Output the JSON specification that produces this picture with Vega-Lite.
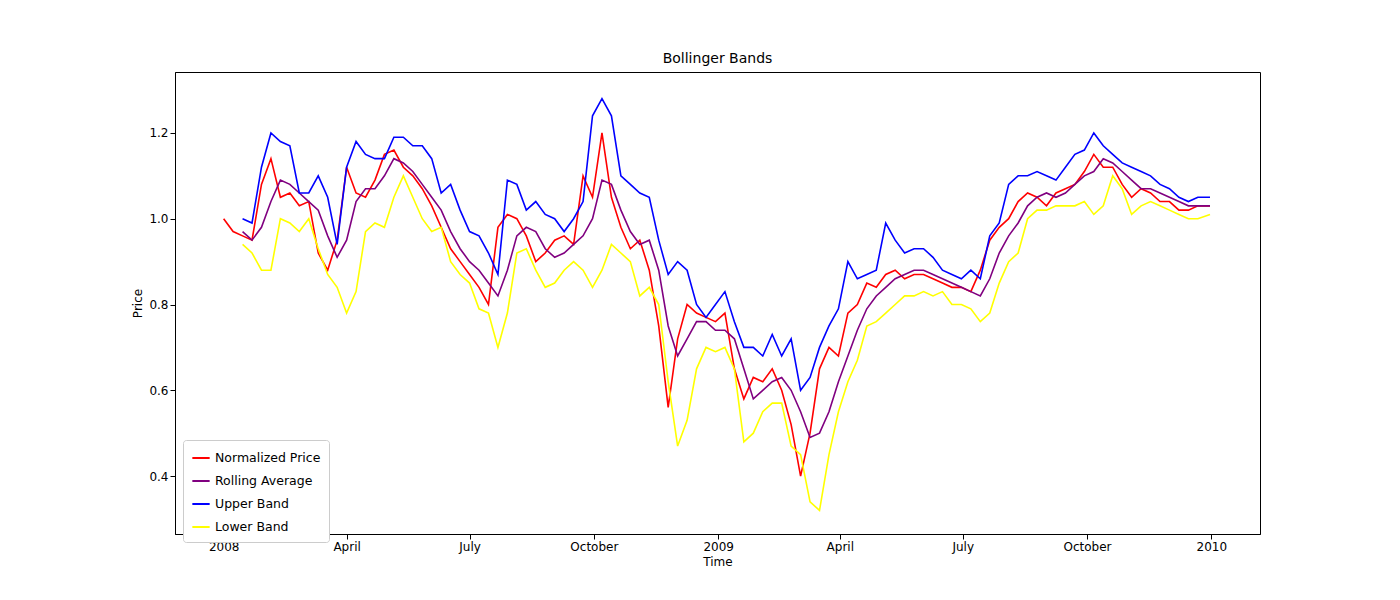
{
  "$schema": "https://vega.github.io/schema/vega-lite/v6.json",
  "width": 1085,
  "height": 462,
  "autosize": {"type": "none"},
  "padding": {"left": 175, "top": 72, "right": 140, "bottom": 66},
  "title": {"text": "Bollinger Bands", "fontSize": 14, "fontWeight": "normal", "font": "DejaVu Sans", "offset": 6},
  "config": {
    "font": "DejaVu Sans",
    "view": {"stroke": "black", "strokeWidth": 1},
    "axis": {"grid": false, "domainColor": "black", "tickColor": "black", "labelFontSize": 12, "titleFontSize": 12, "titleFontWeight": "normal", "labelColor": "black", "titleColor": "black"}
  },
  "data": {"values": [
    {"d":"2008-01-01","p":1.00},
    {"d":"2008-01-08","p":0.97},
    {"d":"2008-01-15","p":0.96,"m":0.97,"u":1.00,"l":0.94},
    {"d":"2008-01-22","p":0.95,"m":0.95,"u":0.99,"l":0.92},
    {"d":"2008-01-29","p":1.08,"m":0.98,"u":1.12,"l":0.88},
    {"d":"2008-02-05","p":1.14,"m":1.04,"u":1.20,"l":0.88},
    {"d":"2008-02-12","p":1.05,"m":1.09,"u":1.18,"l":1.00},
    {"d":"2008-02-19","p":1.06,"m":1.08,"u":1.17,"l":0.99},
    {"d":"2008-02-26","p":1.03,"m":1.06,"u":1.06,"l":0.97},
    {"d":"2008-03-04","p":1.04,"m":1.04,"u":1.06,"l":1.00},
    {"d":"2008-03-11","p":0.92,"m":1.02,"u":1.10,"l":0.93},
    {"d":"2008-03-18","p":0.88,"m":0.96,"u":1.05,"l":0.87},
    {"d":"2008-03-25","p":0.95,"m":0.91,"u":0.94,"l":0.84},
    {"d":"2008-04-01","p":1.12,"m":0.95,"u":1.12,"l":0.78},
    {"d":"2008-04-08","p":1.06,"m":1.04,"u":1.18,"l":0.83},
    {"d":"2008-04-15","p":1.05,"m":1.07,"u":1.15,"l":0.97},
    {"d":"2008-04-22","p":1.09,"m":1.07,"u":1.14,"l":0.99},
    {"d":"2008-04-29","p":1.15,"m":1.10,"u":1.14,"l":0.98},
    {"d":"2008-05-06","p":1.16,"m":1.14,"u":1.19,"l":1.05},
    {"d":"2008-05-13","p":1.12,"m":1.13,"u":1.19,"l":1.10},
    {"d":"2008-05-20","p":1.10,"m":1.11,"u":1.17,"l":1.05},
    {"d":"2008-05-27","p":1.07,"m":1.08,"u":1.17,"l":1.00},
    {"d":"2008-06-03","p":1.03,"m":1.05,"u":1.14,"l":0.97},
    {"d":"2008-06-10","p":0.98,"m":1.02,"u":1.06,"l":0.98},
    {"d":"2008-06-17","p":0.93,"m":0.97,"u":1.08,"l":0.90},
    {"d":"2008-06-24","p":0.90,"m":0.93,"u":1.02,"l":0.87},
    {"d":"2008-07-01","p":0.87,"m":0.90,"u":0.97,"l":0.85},
    {"d":"2008-07-08","p":0.84,"m":0.88,"u":0.96,"l":0.79},
    {"d":"2008-07-15","p":0.80,"m":0.85,"u":0.92,"l":0.78},
    {"d":"2008-07-22","p":0.98,"m":0.82,"u":0.87,"l":0.70},
    {"d":"2008-07-29","p":1.01,"m":0.88,"u":1.09,"l":0.78},
    {"d":"2008-08-05","p":1.00,"m":0.96,"u":1.08,"l":0.92},
    {"d":"2008-08-12","p":0.96,"m":0.98,"u":1.02,"l":0.93},
    {"d":"2008-08-19","p":0.90,"m":0.97,"u":1.04,"l":0.88},
    {"d":"2008-08-26","p":0.92,"m":0.93,"u":1.01,"l":0.84},
    {"d":"2008-09-02","p":0.95,"m":0.91,"u":1.00,"l":0.85},
    {"d":"2008-09-09","p":0.96,"m":0.92,"u":0.97,"l":0.88},
    {"d":"2008-09-16","p":0.94,"m":0.94,"u":1.00,"l":0.90},
    {"d":"2008-09-23","p":1.10,"m":0.96,"u":1.04,"l":0.88},
    {"d":"2008-09-30","p":1.05,"m":1.00,"u":1.24,"l":0.84},
    {"d":"2008-10-07","p":1.20,"m":1.09,"u":1.28,"l":0.88},
    {"d":"2008-10-14","p":1.05,"m":1.08,"u":1.24,"l":0.94},
    {"d":"2008-10-21","p":0.98,"m":1.02,"u":1.10,"l":0.92},
    {"d":"2008-10-28","p":0.93,"m":0.97,"u":1.08,"l":0.90},
    {"d":"2008-11-04","p":0.95,"m":0.94,"u":1.06,"l":0.82},
    {"d":"2008-11-11","p":0.88,"m":0.95,"u":1.05,"l":0.84},
    {"d":"2008-11-18","p":0.75,"m":0.88,"u":0.95,"l":0.80},
    {"d":"2008-11-25","p":0.56,"m":0.75,"u":0.87,"l":0.62},
    {"d":"2008-12-02","p":0.72,"m":0.68,"u":0.90,"l":0.47},
    {"d":"2008-12-09","p":0.80,"m":0.72,"u":0.88,"l":0.53},
    {"d":"2008-12-16","p":0.78,"m":0.76,"u":0.80,"l":0.65},
    {"d":"2008-12-23","p":0.77,"m":0.76,"u":0.77,"l":0.70},
    {"d":"2008-12-30","p":0.76,"m":0.74,"u":0.80,"l":0.69},
    {"d":"2009-01-06","p":0.78,"m":0.74,"u":0.83,"l":0.70},
    {"d":"2009-01-13","p":0.65,"m":0.72,"u":0.76,"l":0.65},
    {"d":"2009-01-20","p":0.58,"m":0.65,"u":0.70,"l":0.48},
    {"d":"2009-01-27","p":0.63,"m":0.58,"u":0.70,"l":0.50},
    {"d":"2009-02-03","p":0.62,"m":0.60,"u":0.68,"l":0.55},
    {"d":"2009-02-10","p":0.65,"m":0.62,"u":0.73,"l":0.57},
    {"d":"2009-02-17","p":0.60,"m":0.63,"u":0.68,"l":0.57},
    {"d":"2009-02-24","p":0.52,"m":0.60,"u":0.72,"l":0.47},
    {"d":"2009-03-03","p":0.40,"m":0.55,"u":0.60,"l":0.45},
    {"d":"2009-03-10","p":0.50,"m":0.49,"u":0.63,"l":0.34},
    {"d":"2009-03-17","p":0.65,"m":0.50,"u":0.70,"l":0.32},
    {"d":"2009-03-24","p":0.70,"m":0.55,"u":0.75,"l":0.45},
    {"d":"2009-03-31","p":0.68,"m":0.62,"u":0.79,"l":0.55},
    {"d":"2009-04-07","p":0.78,"m":0.68,"u":0.90,"l":0.62},
    {"d":"2009-04-14","p":0.80,"m":0.74,"u":0.86,"l":0.67},
    {"d":"2009-04-21","p":0.85,"m":0.79,"u":0.87,"l":0.75},
    {"d":"2009-04-28","p":0.84,"m":0.82,"u":0.88,"l":0.76},
    {"d":"2009-05-05","p":0.87,"m":0.84,"u":0.99,"l":0.78},
    {"d":"2009-05-12","p":0.88,"m":0.86,"u":0.95,"l":0.80},
    {"d":"2009-05-19","p":0.86,"m":0.87,"u":0.92,"l":0.82},
    {"d":"2009-05-26","p":0.87,"m":0.88,"u":0.93,"l":0.82},
    {"d":"2009-06-02","p":0.87,"m":0.88,"u":0.93,"l":0.83},
    {"d":"2009-06-09","p":0.86,"m":0.87,"u":0.91,"l":0.82},
    {"d":"2009-06-16","p":0.85,"m":0.86,"u":0.88,"l":0.83},
    {"d":"2009-06-23","p":0.84,"m":0.85,"u":0.87,"l":0.80},
    {"d":"2009-06-30","p":0.84,"m":0.84,"u":0.86,"l":0.80},
    {"d":"2009-07-07","p":0.83,"m":0.83,"u":0.88,"l":0.79},
    {"d":"2009-07-14","p":0.88,"m":0.82,"u":0.86,"l":0.76},
    {"d":"2009-07-21","p":0.95,"m":0.86,"u":0.96,"l":0.78},
    {"d":"2009-07-28","p":0.98,"m":0.92,"u":0.99,"l":0.85},
    {"d":"2009-08-04","p":1.00,"m":0.96,"u":1.08,"l":0.90},
    {"d":"2009-08-11","p":1.04,"m":0.99,"u":1.10,"l":0.92},
    {"d":"2009-08-18","p":1.06,"m":1.03,"u":1.10,"l":1.00},
    {"d":"2009-08-25","p":1.05,"m":1.05,"u":1.11,"l":1.02},
    {"d":"2009-09-01","p":1.03,"m":1.06,"u":1.10,"l":1.02},
    {"d":"2009-09-08","p":1.06,"m":1.05,"u":1.09,"l":1.03},
    {"d":"2009-09-15","p":1.07,"m":1.06,"u":1.12,"l":1.03},
    {"d":"2009-09-22","p":1.08,"m":1.08,"u":1.15,"l":1.03},
    {"d":"2009-09-29","p":1.11,"m":1.10,"u":1.16,"l":1.04},
    {"d":"2009-10-06","p":1.15,"m":1.11,"u":1.20,"l":1.01},
    {"d":"2009-10-13","p":1.12,"m":1.14,"u":1.17,"l":1.03},
    {"d":"2009-10-20","p":1.12,"m":1.13,"u":1.15,"l":1.10},
    {"d":"2009-10-27","p":1.08,"m":1.11,"u":1.13,"l":1.07},
    {"d":"2009-11-03","p":1.05,"m":1.09,"u":1.12,"l":1.01},
    {"d":"2009-11-10","p":1.07,"m":1.07,"u":1.11,"l":1.03},
    {"d":"2009-11-17","p":1.06,"m":1.07,"u":1.10,"l":1.04},
    {"d":"2009-11-24","p":1.04,"m":1.06,"u":1.08,"l":1.03},
    {"d":"2009-12-01","p":1.04,"m":1.05,"u":1.07,"l":1.02},
    {"d":"2009-12-08","p":1.02,"m":1.04,"u":1.05,"l":1.01},
    {"d":"2009-12-15","p":1.02,"m":1.03,"u":1.04,"l":1.00},
    {"d":"2009-12-22","p":1.03,"m":1.03,"u":1.05,"l":1.00},
    {"d":"2009-12-31","p":1.03,"m":1.03,"u":1.05,"l":1.01}
  ]},
  "transform": [
    {"fold": ["p", "m", "u", "l"], "as": ["key", "value"]},
    {"filter": "isValid(datum.value)"}
  ],
  "mark": {"type": "line", "strokeWidth": 1.6},
  "encoding": {
    "x": {"field": "d", "type": "temporal", "title": "Time",
      "scale": {"type": "utc", "domain": ["2007-11-26", "2010-02-06"]},
      "axis": {"format": "%Y-%m", "formatType": "utc", "tickCount": {"interval": "month", "step": 3}, "labelFlush": false}},
    "y": {"field": "value", "type": "quantitative", "title": "Price",
      "scale": {"domain": [0.265, 1.342], "nice": false, "zero": false},
      "axis": {"values": [0.4, 0.6, 0.8, 1.0, 1.2], "format": ".1f"}},
    "color": {"field": "key", "type": "nominal",
      "scale": {"domain": ["p", "m", "u", "l"], "range": ["red", "purple", "blue", "yellow"]},
      "legend": {"title": null, "orient": "none", "legendX": 8, "legendY": 368, "symbolType": "stroke", "symbolStrokeWidth": 2, "symbolSize": 300, "labelFontSize": 12.5, "rowPadding": 6, "padding": 8, "strokeColor": "#cccccc", "fillColor": "white", "cornerRadius": 3,
        "labelExpr": "{'p': 'Normalized Price', 'm': 'Rolling Average', 'u': 'Upper Band', 'l': 'Lower Band'}[datum.value]"}}
  }
}
